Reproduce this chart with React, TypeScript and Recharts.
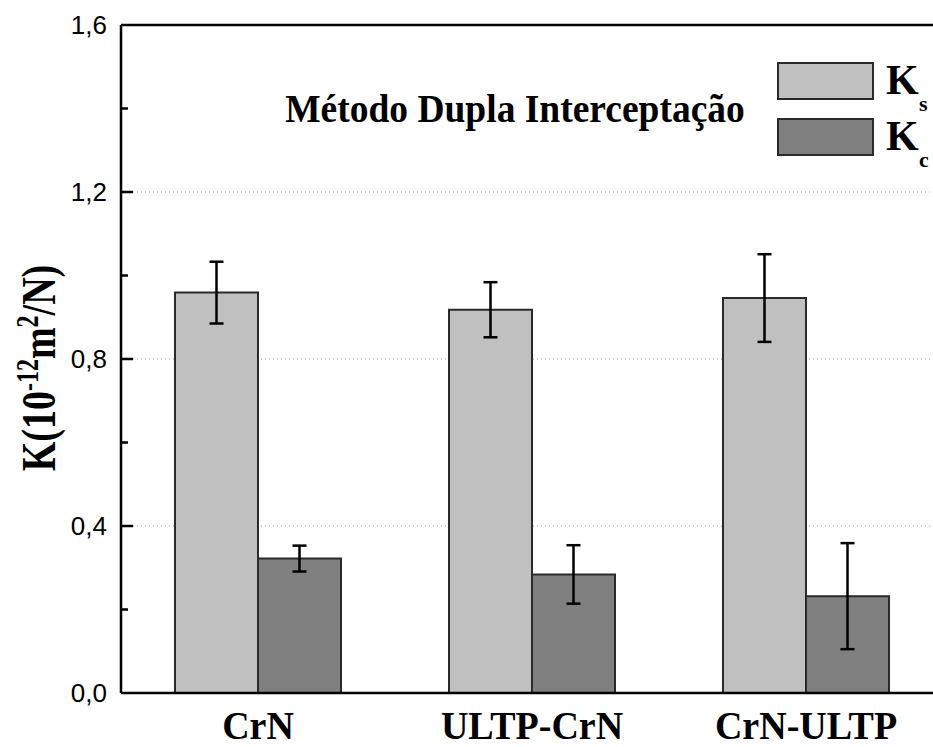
import React from 'react';
import { BarChart, Bar, XAxis, YAxis, CartesianGrid, ErrorBar, Legend, ReferenceLine } from 'recharts';

const categories = ['CrN', 'ULTP-CrN', 'CrN-ULTP'];
const ksValues = [0.959, 0.918, 0.946];
const ksErrors = [0.074, 0.066, 0.105];
const kcValues = [0.322, 0.284, 0.232];
const kcErrors = [0.031, 0.070, 0.127];
const seriesOrder = ['Ks', 'Kc'];
const majorTicks = [0, 0.4, 0.8, 1.2, 1.6];
const innerMajorMarks = [0.4, 0.8, 1.2];
const minorTicks = [0.2, 0.6, 1.0, 1.4];
const gridValues = [0.4, 0.8, 1.2];
const titleText = 'Método Dupla Interceptação';

const data = categories.map((name, i) => ({
  name,
  Ks: ksValues[i],
  KsErr: ksErrors[i],
  Kc: kcValues[i],
  KcErr: kcErrors[i],
}));

const SERIF = '"Liberation Serif", "Times New Roman", serif';
const SANS = '"Liberation Sans", Arial, sans-serif';

const YTick = (props: any) => {
  const { x, y, payload } = props;
  const v = payload.value as number;
  return (
    <text x={x} y={y} dy={9} textAnchor="end" fontFamily={SANS} fontSize={26} fill="#000">
      {v.toFixed(1).replace('.', ',')}
    </text>
  );
};

const XTick = (props: any) => {
  const { x, y, payload } = props;
  return (
    <text
      transform={`translate(${x}, ${y + 46}) scale(1, 1.06)`}
      x={0}
      y={0}
      textAnchor="middle"
      fontFamily={SERIF}
      fontWeight="bold"
      fontSize={38}
      fill="#000"
    >
      {payload.value}
    </text>
  );
};

const YLabel = (props: any) => {
  const vb = props.viewBox || { x: 0, y: 25, width: 121, height: 668 };
  const cx = 55;
  const cy = vb.y + vb.height / 2 + 9;
  return (
    <text
      transform={`translate(${cx}, ${cy}) rotate(-90) scale(1, 1.3)`}
      x={0}
      y={0}
      textAnchor="middle"
      fontFamily={SERIF}
      fontWeight="bold"
      fontSize={38}
      fill="#000"
    >
      K(10
      <tspan dy={-13} fontSize={24}>-12</tspan>
      <tspan dy={13}>m</tspan>
      <tspan dy={-13} fontSize={24}>2</tspan>
      <tspan dy={13}>/N)</tspan>
    </text>
  );
};

const makeMark = (len: number) => (p: any) => {
  const x1 = Number(p.x1);
  const y1 = Number(p.y1);
  return <line x1={x1} x2={x1 + len} y1={y1} y2={y1} stroke="#000" strokeWidth={2.5} />;
};
const majorMark = makeMark(12);
const minorMark = makeMark(7);

const LegendContent = (props: any) => {
  const payload = [...(props.payload || [])].sort(
    (a: any, b: any) => seriesOrder.indexOf(String(a.value)) - seriesOrder.indexOf(String(b.value))
  );
  return (
    <svg width={160} height={115} style={{ overflow: 'visible' }}>
      {payload.map((p: any, i: number) => {
        const name = String(p.value);
        const top = i * 56;
        return (
          <g key={name}>
            <rect x={1} y={top + 1} width={95} height={36} fill={p.color} stroke="#2a2a2a" strokeWidth={2} />
            <text x={109} y={top + 32} fontFamily={SERIF} fontWeight="bold" fontSize={42} fill="#000">
              {name.charAt(0)}
            </text>
            <text x={142} y={top + 49} fontFamily={SERIF} fontWeight="bold" fontSize={22} fill="#000">
              {name.slice(1)}
            </text>
          </g>
        );
      })}
    </svg>
  );
};

export default function App() {
  return (
    <div style={{ position: 'absolute', left: 0, top: 0, width: 933, height: 747, overflow: 'hidden', background: '#fff' }}>
      <BarChart
        width={950}
        height={747}
        data={data}
        margin={{ top: 25, right: 7, left: 0, bottom: 0 }}
        barGap={0}
        barSize={83}
      >
        <CartesianGrid
          horizontal
          vertical={false}
          horizontalValues={gridValues}
          stroke="#999"
          strokeDasharray="1 3"
          strokeWidth={1}
        />
        <XAxis
          dataKey="name"
          height={54}
          tickSize={0}
          tickMargin={0}
          tick={<XTick />}
          axisLine={{ stroke: '#000', strokeWidth: 2.5 }}
          tickLine={false}
        />
        <YAxis
          width={121}
          domain={[0, 1.6]}
          ticks={majorTicks}
          interval={0}
          tickSize={0}
          tickMargin={14}
          tick={<YTick />}
          tickLine={false}
          axisLine={{ stroke: '#000', strokeWidth: 2.5 }}
          label={{ content: <YLabel /> }}
        />
        {innerMajorMarks.map((v) => (
          <ReferenceLine key={`maj-${v}`} y={v} shape={majorMark} />
        ))}
        {minorTicks.map((v) => (
          <ReferenceLine key={`min-${v}`} y={v} shape={minorMark} />
        ))}
        <ReferenceLine y={1.6} stroke="#000" strokeWidth={2.5} />
        <Legend
          layout="vertical"
          align="center"
          verticalAlign="middle"
          content={<LegendContent />}
          wrapperStyle={{ position: 'absolute', left: 777, top: 62, width: 160, height: 115 }}
        />
        <Bar dataKey="Ks" fill="#c0c0c0" stroke="#2a2a2a" strokeWidth={2} isAnimationActive={false}>
          <ErrorBar dataKey="KsErr" width={7} stroke="#000" strokeWidth={2.5} direction="y" />
        </Bar>
        <Bar dataKey="Kc" fill="#808080" stroke="#2a2a2a" strokeWidth={2} isAnimationActive={false}>
          <ErrorBar dataKey="KcErr" width={7} stroke="#000" strokeWidth={2.5} direction="y" />
        </Bar>
      </BarChart>
      <svg
        width={933}
        height={747}
        style={{ position: 'absolute', left: 0, top: 0, pointerEvents: 'none' }}
      >
        <text
          transform="translate(515, 122) scale(1, 1.07)"
          x={0}
          y={0}
          textAnchor="middle"
          fontFamily={SERIF}
          fontWeight="bold"
          fontSize={37.5}
          fill="#000"
        >
          {titleText}
        </text>
      </svg>
    </div>
  );
}
